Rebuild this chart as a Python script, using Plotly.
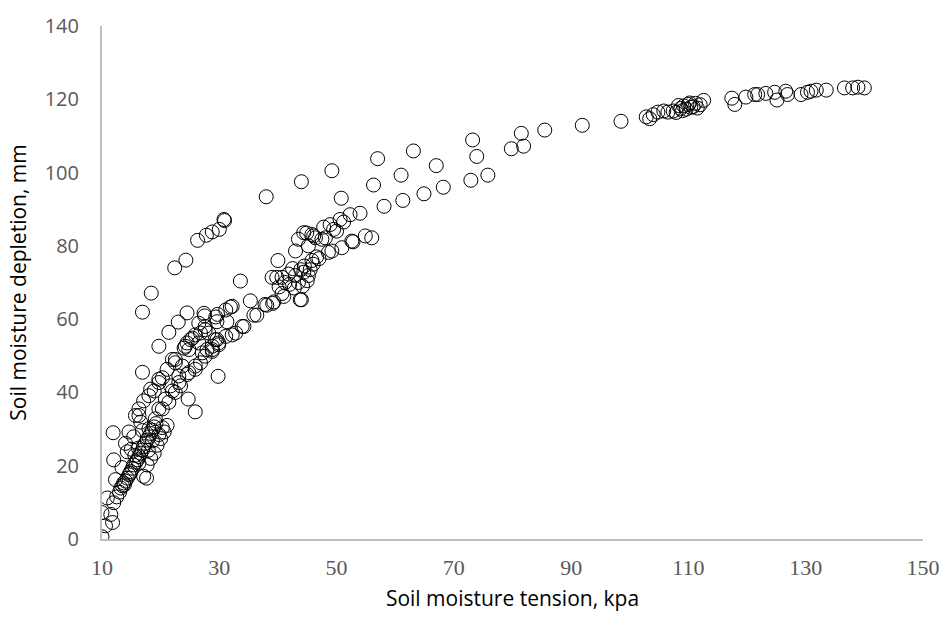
import plotly.graph_objects as go

# Soil moisture tension (kPa)
tension = [
    # low band
    10.0, 10.6, 11.8, 10.0, 11.5, 10.9, 12.0, 12.3, 12.0, 11.9, 14.0, 14.3, 13.2, 13.7, 14.3, 14.9,
    15.4, 16.0, 16.6, 17.1, 17.7, 18.3, 18.9, 17.1, 17.6, 18.9, 19.4, 20.0, 20.6, 21.1, 18.3, 17.7,
    14.6, 15.4, 16.9, 13.0, 13.5, 14.0, 14.6, 15.2, 15.8, 16.3, 16.9, 17.4, 18.0, 18.6, 19.2, 12.5,
    13.8, 14.8, 15.6, 16.2, 17.9, 18.6, 19.7, 20.3, 16.3, 15.0, 13.4,
    # middle band
    16.3, 17.1, 18.3, 19.7, 21.1, 22.5, 24.0, 25.1, 25.9, 19.7, 20.8, 22.0, 23.1, 24.5, 25.9, 27.6,
    28.8, 29.9, 32.2, 33.9, 35.9, 22.0, 22.5, 24.2, 24.8, 23.7, 23.1, 21.7, 20.3, 19.7, 18.9, 18.0,
    16.3, 15.7, 16.6, 18.0, 19.1, 20.3, 21.4, 22.5, 23.4, 24.8, 25.9, 26.8, 27.1, 27.9, 28.8, 29.9,
    31.1, 32.8, 34.2, 29.3, 28.2, 26.8, 25.4, 24.5, 26.5, 27.6, 29.6, 31.3, 16.9, 19.7, 21.4, 23.0,
    24.5, 29.8, 25.9, 24.7, 16.9, 27.4, 29.4, 31.1, 31.9, 27.6, 29.6, 26.5, 28.8, 32.2, 29.7, 27.5,
    # upper band
    33.6, 35.3, 36.4, 38.1, 39.3, 41.0, 44.0, 40.0, 37.8, 39.1, 39.0, 39.8, 40.7, 41.8, 43.0, 44.4,
    45.2, 40.7, 43.8, 42.0, 42.8, 43.5, 44.2, 41.2, 43.9, 44.5, 45.5, 46.0, 42.5, 45.0, 40.2, 43.0,
    43.5, 45.2, 46.4, 48.1, 49.2, 50.9, 52.6, 54.9, 56.0, 44.4, 45.8, 47.5, 47.8, 48.9, 50.6, 52.3,
    54.0, 46.6, 48.6, 52.8, 44.9, 46.1, 50.0, 51.2, 49.5, 47.0, 45.8,
    # separate branches
    18.4, 22.4, 24.3, 26.3, 27.8, 28.8, 30.0, 30.8, 30.9, 38.0, 44.0, 49.2, 57.0, 63.1, 73.2, 81.5,
    85.5, 91.9, 98.5, 50.8, 56.3, 61.0, 67.0, 73.9, 79.8, 81.9, 58.1, 61.3, 64.9, 68.2, 72.9, 75.8,
    # high tension cluster
    102.8, 103.4, 104.0, 104.8, 105.8, 106.5, 107.4, 107.9, 108.7, 109.2, 109.6, 110.0, 110.4, 110.8,
    111.2, 109.0, 110.2, 111.5, 108.3, 112.0, 112.6, 117.4, 117.9, 119.8, 121.3, 121.8, 123.2, 124.7,
    125.1, 126.6, 126.9, 129.2, 130.3, 130.9, 131.8, 133.5, 136.6, 138.0, 138.9, 140.0,
]

# Soil moisture depletion (mm)
depletion = [
    0.6, 3.6, 4.5, 7.2, 6.7, 11.2, 9.9, 16.2, 21.6, 29.0, 26.1, 23.8, 13.9, 15.3, 16.6, 18.4,
    20.2, 21.6, 23.4, 25.2, 27.0, 28.8, 30.6, 17.1, 16.6, 23.4, 25.6, 27.4, 29.2, 31.0, 22.0, 20.2,
    29.2, 27.9, 29.6, 12.8, 14.5, 15.8, 17.5, 19.3, 21.0, 22.5, 24.3, 26.1, 27.9, 29.7, 31.5, 11.5,
    14.8, 17.9, 22.8, 24.8, 24.2, 26.8, 28.5, 30.4, 20.7, 24.5, 19.5,
    33.7, 37.7, 40.9, 43.6, 46.3, 49.0, 52.1, 54.4, 55.7, 35.5, 38.2, 40.4, 42.7, 44.9, 47.2, 49.9,
    51.2, 53.0, 55.7, 58.0, 61.1, 49.0, 48.1, 52.6, 51.7, 47.2, 44.5, 41.8, 44.0, 42.7, 40.4, 39.1,
    35.5, 33.7, 31.9, 30.1, 32.8, 35.5, 37.3, 40.0, 41.8, 45.4, 46.3, 48.1, 50.8, 51.7, 52.6, 53.5,
    55.3, 56.2, 58.0, 54.4, 56.2, 56.2, 54.8, 53.5, 58.9, 58.0, 59.3, 59.3, 45.5, 52.6, 56.4, 59.2,
    61.7, 44.4, 34.7, 38.2, 61.9, 61.6, 60.6, 62.5, 63.3, 57.1, 54.4, 53.5, 51.7, 63.5, 61.3, 60.9,
    70.4, 65.0, 61.1, 63.8, 64.7, 66.2, 65.3, 76.0, 64.0, 64.3, 71.4, 71.4, 71.4, 72.3, 71.9, 72.8,
    71.9, 67.0, 65.3, 69.5, 68.5, 70.0, 69.0, 70.0, 73.5, 74.5, 73.5, 75.0, 73.8, 70.5, 68.8, 78.6,
    81.8, 80.0, 82.2, 82.2, 78.6, 79.5, 81.3, 82.7, 82.2, 83.6, 83.1, 81.8, 85.1, 85.8, 87.2, 88.5,
    88.9, 77.0, 78.2, 81.1, 83.5, 82.7, 84.0, 86.5, 84.5, 76.5, 76.0,
    67.1, 74.0, 76.1, 81.5, 82.9, 83.8, 84.5, 87.2, 86.9, 93.4, 97.5, 100.5, 103.8, 105.9, 108.9, 110.7,
    111.6, 112.9, 114.0, 93.0, 96.6, 99.3, 101.9, 104.4, 106.5, 107.2, 90.8, 92.4, 94.2, 96.0, 97.9, 99.3,
    115.2, 114.7, 115.8, 116.5, 116.8, 116.5, 116.8, 116.4, 117.5, 118.2, 117.3, 118.6, 117.8, 118.0,
    118.9, 116.9, 119.0, 117.6, 118.3, 118.5, 119.7, 120.3, 118.6, 120.6, 121.3, 121.3, 121.6, 121.9,
    119.8, 122.2, 121.3, 121.3, 121.9, 122.2, 122.5, 122.5, 123.1, 123.1, 123.3, 123.1,
]

x_ticks = [10, 30, 50, 70, 90, 110, 130, 150]
y_ticks = [0, 20, 40, 60, 80, 100, 120, 140]

fig = go.Figure(
    go.Scatter(
        x=tension,
        y=depletion,
        mode="markers",
        marker=dict(symbol="circle-open", size=14, color="black", line=dict(width=1, color="black")),
        showlegend=False,
    )
)

fig.update_layout(
    width=952,
    height=619,
    paper_bgcolor="white",
    plot_bgcolor="white",
    margin=dict(l=102, r=26, t=22, b=77),
)

fig.update_xaxes(
    range=[10, 150],
    tickvals=x_ticks,
    ticktext=[str(v) for v in x_ticks],
    showgrid=False,
    zeroline=False,
    showline=True,
    linecolor="#bfbfbf",
    linewidth=2,
    ticks="",
    tickfont=dict(family="Liberation Serif", size=22, color="#595959"),
    ticklabelstandoff=8,
    title=dict(text="Soil moisture tension, kpa", font=dict(family="Open Sans", size=21, color="black"), standoff=12),
)
fig.update_yaxes(
    range=[0, 140],
    tickvals=y_ticks,
    showgrid=False,
    zeroline=False,
    showline=True,
    linecolor="#bfbfbf",
    linewidth=2,
    ticks="",
    tickfont=dict(family="Open Sans", size=20, color="#595959"),
    ticklabelstandoff=17,
    title=dict(text="Soil moisture depletion, mm", font=dict(family="Open Sans", size=21, color="black"), standoff=12),
)

fig.write_html("out.html")
